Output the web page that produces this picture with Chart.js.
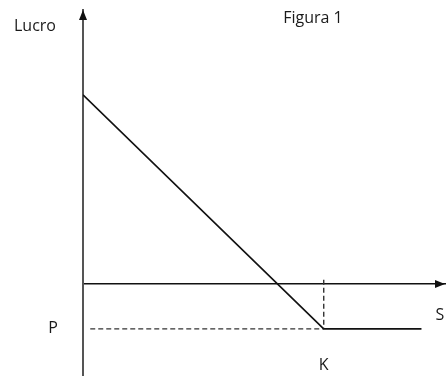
<!DOCTYPE html>
<html>
<head>
<meta charset="utf-8">
<script src="https://cdn.jsdelivr.net/npm/chart.js@4/dist/chart.umd.min.js"></script>
<style>
  html, body { margin: 0; padding: 0; background: #fff; }
  #wrap { width: 446px; height: 376px; position: relative; }
</style>
</head>
<body>
<div id="wrap"><canvas id="grafico"></canvas></div>
<script>
// preço do ativo (S) e lucro da posição
const precoS = [0, 66.5, 93.5];
const lucro = [69, -16.4, -16.4];
const strikeK = 66.5;
const premioP = -16.4;
// guias tracejadas
const guiaHorizX = [2, strikeK];
const guiaVertY = [1.5, premioP];
const eixoX = { min: 0, max: 100 };
const eixoY = { min: -33.6, max: 100 };

const FONTE = '"Open Sans", "Liberation Sans", sans-serif';

const setasERotulos = {
  id: 'setasERotulos',
  afterDraw(chart) {
    const { ctx, chartArea: a, scales: { x, y } } = chart;
    const y0 = y.getPixelForValue(0);
    const x0 = x.getPixelForValue(0);
    ctx.save();
    ctx.fillStyle = '#111';
    // seta do eixo S
    ctx.beginPath();
    ctx.moveTo(a.right, y0);
    ctx.lineTo(a.right - 10, y0 - 4);
    ctx.lineTo(a.right - 10, y0 + 4);
    ctx.closePath();
    ctx.fill();
    // seta do eixo Lucro
    ctx.beginPath();
    ctx.moveTo(x0, a.top);
    ctx.lineTo(x0 - 4, a.top + 10);
    ctx.lineTo(x0 + 4, a.top + 10);
    ctx.closePath();
    ctx.fill();

    ctx.fillStyle = '#1a1a1a';
    ctx.font = '500 16px ' + FONTE;
    ctx.textBaseline = 'middle';
    const yP = y.getPixelForValue(premioP);
    const xK = x.getPixelForValue(strikeK);
    ctx.textAlign = 'center';
    ctx.fillText('P', x0 - 30, yP);
    ctx.fillText('K', xK, yP + 37);
    ctx.fillText('S', a.right - 5, y0 + 31);
    ctx.fillText('Lucro', x0 - 48, a.top + 16);
    ctx.fillText('Figura 1', x0 + 230, a.top + 8);
    ctx.restore();
  }
};

new Chart(document.getElementById('grafico'), {
  type: 'line',
  data: {
    datasets: [
      {
        data: precoS.map((s, i) => ({ x: s, y: lucro[i] })),
        borderColor: '#111', borderWidth: 1.6, pointRadius: 0, tension: 0
      },
      {
        data: guiaHorizX.map(s => ({ x: s, y: premioP })),
        borderColor: '#333', borderWidth: 1.4, borderDash: [5, 3], pointRadius: 0
      },
      {
        data: guiaVertY.map(v => ({ x: strikeK, y: v })),
        borderColor: '#333', borderWidth: 1.4, borderDash: [5, 3], pointRadius: 0
      }
    ]
  },
  options: {
    responsive: true, maintainAspectRatio: false, animation: false,
    layout: { padding: { left: 75, right: 1, top: 10, bottom: 0 } },
    plugins: { legend: { display: false }, tooltip: { enabled: false } },
    scales: {
      x: {
        type: 'linear', min: eixoX.min, max: eixoX.max, position: { y: 0 },
        grid: { display: false }, ticks: { display: false },
        border: { display: true, color: '#111', width: 1.6 }
      },
      y: {
        type: 'linear', min: eixoY.min, max: eixoY.max, position: 'left',
        grid: { display: false }, ticks: { display: false },
        border: { display: true, color: '#555', width: 2 }
      }
    }
  },
  plugins: [setasERotulos]
});
</script>
</body>
</html>
